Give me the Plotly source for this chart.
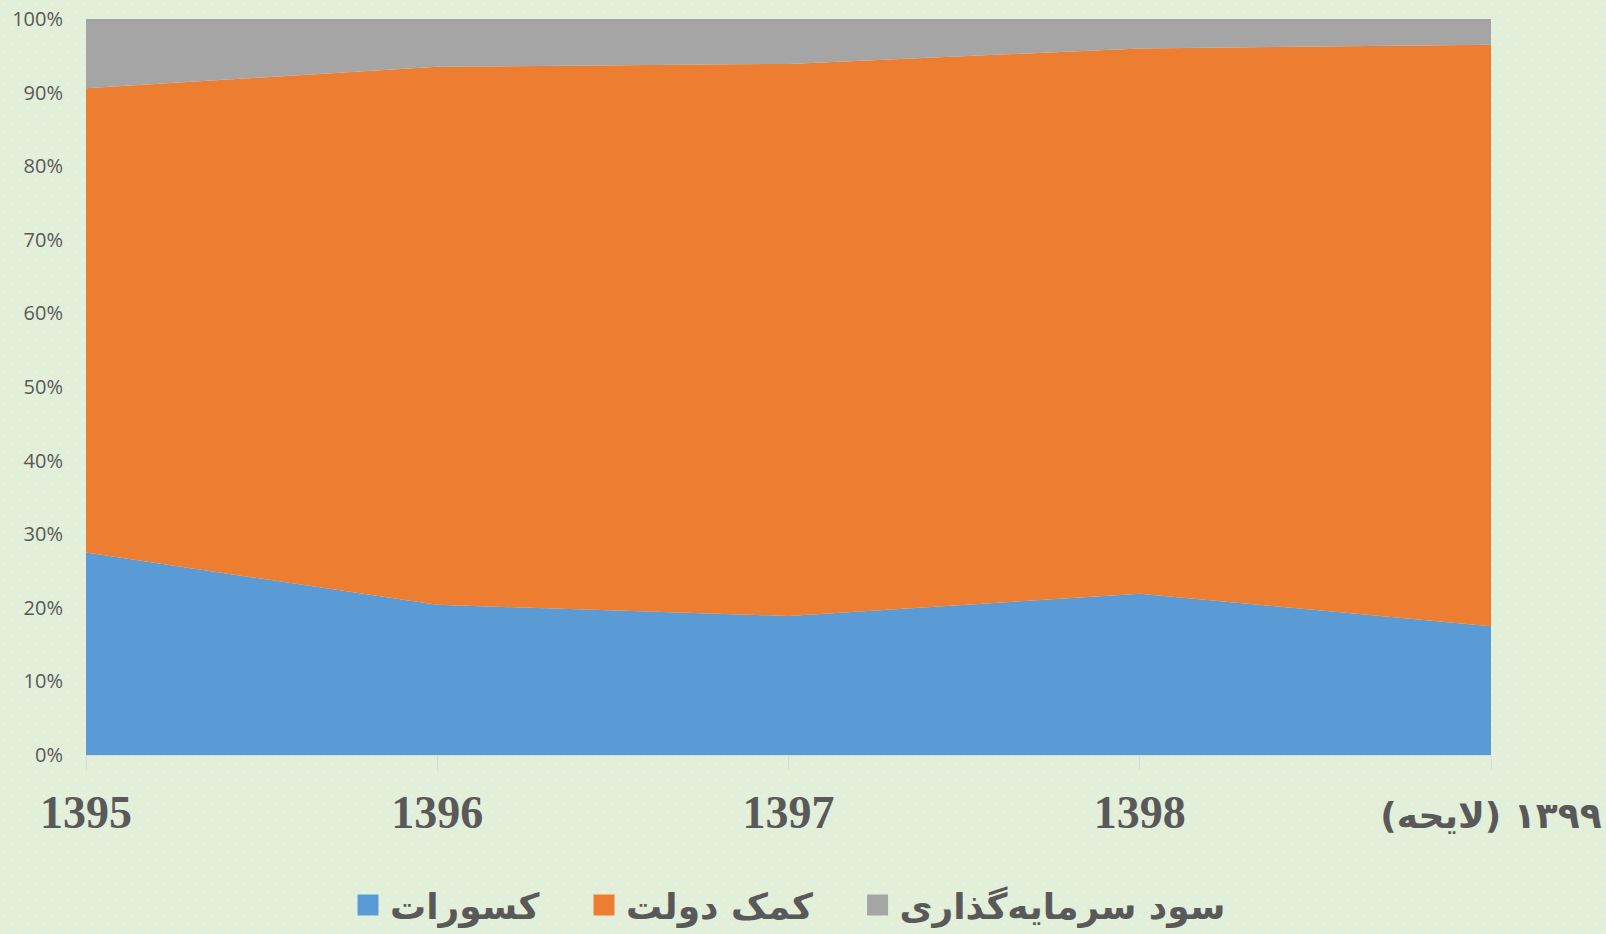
import plotly.graph_objects as go
import urllib.parse

# ---- data ----
years = ["1395", "1396", "1397", "1398", "۱۳۹۹ (لایحه)"]
kosourat = [27.5, 20.4, 18.9, 21.9, 17.5]          # blue
komak_dolat = [63.1, 73.1, 75.0, 74.1, 79.0]       # orange
sood = [9.4, 6.5, 6.1, 4.0, 3.5]                   # gray
series_names = ["کسورات", "کمک دولت", "سود سرمایه‌گذاری"]
series_colors = ["#5B9BD5", "#ED7D31", "#A5A5A5"]
y_ticks = [0, 10, 20, 30, 40, 50, 60, 70, 80, 90, 100]
y_ticktext = [f"{v}%" for v in y_ticks]

W, H = 1606, 934
ML, MR, MT, MB = 86, 115, 19, 179
PW, PH = W - ML - MR, H - MT - MB

x = list(range(len(years)))
fig = go.Figure()
for name, vals, col in zip(series_names, [kosourat, komak_dolat, sood], series_colors):
    fig.add_trace(go.Scatter(
        x=x, y=vals, name=name, mode="lines", stackgroup="one",
        line=dict(width=0, color=col), fillcolor=col, hoverinfo="skip",
        showlegend=False))

# legend entries (square swatches)
NBSP = "\u00a0"
for i, (name, col) in enumerate(zip(series_names, series_colors)):
    pad = NBSP * 3 if i < len(series_names) - 1 else ""
    fig.add_trace(go.Scatter(
        x=[None], y=[None], name=name + pad, mode="markers",
        marker=dict(symbol="square", size=16, color=col, line=dict(color=col, width=5)),
        showlegend=True))

def ticklabel(t):
    if t.isdigit():
        return "<b>" + t + "</b>"
    return ('<span style="font-family:\'DejaVu Sans\';font-size:36px"><b>\u200f' + t + '\u200f</b></span>')

# dotted background texture
svg = (f'<svg xmlns="http://www.w3.org/2000/svg" width="{W}" height="{H}">'
       '<defs><pattern id="p" width="16" height="16" patternUnits="userSpaceOnUse">'
       '<rect width="16" height="16" fill="#E2EFDA"/>'
       '<circle cx="4" cy="4" r="1.1" fill="#FFF2CC"/>'
       '<circle cx="12" cy="12" r="1.1" fill="#FFF2CC"/></pattern></defs>'
       f'<rect width="{W}" height="{H}" fill="url(#p)"/></svg>')
src = "data:image/svg+xml;charset=utf-8," + urllib.parse.quote(svg)

fig.update_layout(
    width=W, height=H,
    margin=dict(l=ML, r=MR, t=MT, b=MB, pad=0, autoexpand=False),
    paper_bgcolor="#E2EFDA", plot_bgcolor="rgba(0,0,0,0)",
    images=[dict(source=src, xref="paper", yref="paper",
                 x=-ML / PW, y=1 + MT / PH, sizex=W / PW, sizey=H / PH,
                 xanchor="left", yanchor="top", sizing="stretch", layer="below")],
    showlegend=True,
    legend=dict(orientation="h", x=0.5, xanchor="center", y=-(150 / PH), yanchor="middle",
                font=dict(family="DejaVu Sans", size=36, color="#595959", weight="bold"),
                bgcolor="rgba(0,0,0,0)", itemwidth=34, traceorder="normal"),
    xaxis=dict(range=[0, 4], tickvals=x, ticktext=[ticklabel(t) for t in years],
               showgrid=False, zeroline=False, showline=True, linecolor="#D9D9D9", linewidth=1,
               ticks="outside", ticklen=14, tickcolor="#D9D9D9", tickwidth=1,
               tickfont=dict(family="Liberation Serif", size=46, color="#595959"),
               ticklabelstandoff=3, ticklabeloverflow="allow", automargin=False),
    yaxis=dict(range=[0, 100], tickvals=y_ticks, ticktext=y_ticktext,
               showgrid=False, zeroline=False, showline=False, ticks="",
               tickfont=dict(family="Open Sans", size=20, color="#595959"),
               ticklabelstandoff=22, automargin=False),
)

fig.write_html("out.html", config={"displayModeBar": False},
               post_script="document.body.style.margin='0';document.body.style.overflow='hidden';")
